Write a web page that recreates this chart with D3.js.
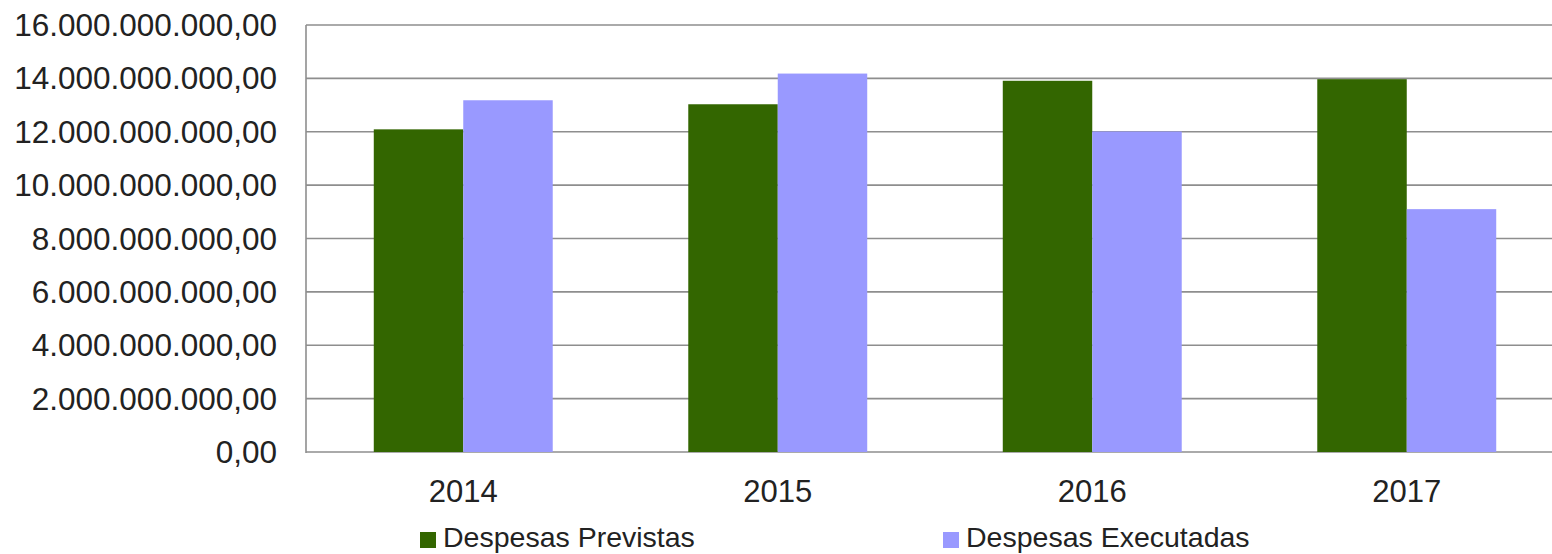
<!DOCTYPE html>
<html>
<head>
<meta charset="utf-8">
<script src="https://cdn.jsdelivr.net/npm/d3@7"></script>
<style>
    body { margin: 0; background: #fff; }
    text { font-family: "Liberation Sans", Arial, sans-serif; fill: #222; }
</style>
</head>
<body>
<div id="chart"></div>
<script>
var years = ["2014", "2015", "2016", "2017"];
var seriesNames = ["Despesas Previstas", "Despesas Executadas"];
var previstas = [12.09e9, 13.03e9, 13.91e9, 13.97e9];
var executadas = [13.18e9, 14.18e9, 12.01e9, 9.10e9];
var yTicks = [0, 2e9, 4e9, 6e9, 8e9, 10e9, 12e9, 14e9, 16e9];
var colors = ["#336600", "#9999ff"];

var svgWidth = 1552;
var svgHeight = 554;

// plot box (right edge runs past the window, as in the original)
var plot = { left: 306, top: 25, bottom: 452, right: 1564 };

var svg = d3.select("#chart")
    .append("svg")
    .attr("width", svgWidth)
    .attr("height", svgHeight);

var yScale = d3.scaleLinear()
    .domain([0, 16e9])
    .range([plot.bottom, plot.top]);

var x0 = d3.scaleBand()
    .domain(years)
    .range([plot.left, plot.right])
    .paddingInner(0.431)
    .paddingOuter(0.2155);

var x1 = d3.scaleBand()
    .domain([0, 1])
    .range([0, x0.bandwidth()]);

// pt-BR number format
var fmt = d3.formatLocale({
    decimal: ",",
    thousands: ".",
    grouping: [3],
    currency: ["R$", ""]
}).format(",.2f");

// gridlines
svg.append("g")
    .selectAll("line")
    .data(yTicks)
    .enter()
    .append("line")
    .attr("x1", plot.left)
    .attr("x2", svgWidth)
    .attr("y1", d => yScale(d))
    .attr("y2", d => yScale(d))
    .attr("stroke", "#8e8e8e")
    .attr("stroke-width", 1.6);

// left axis line
svg.append("line")
    .attr("x1", plot.left)
    .attr("x2", plot.left)
    .attr("y1", plot.top)
    .attr("y2", plot.bottom + 1)
    .attr("stroke", "#8e8e8e")
    .attr("stroke-width", 1.6);

// y labels
svg.append("g")
    .selectAll("text")
    .data(yTicks)
    .enter()
    .append("text")
    .attr("x", 277)
    .attr("y", d => yScale(d))
    .attr("dy", "0.35em")
    .attr("text-anchor", "end")
    .attr("font-size", "31.5px")
    .text(d => fmt(d));

// bars
var rows = years.map((y, i) => ({ year: y, values: [previstas[i], executadas[i]] }));

var groups = svg.append("g")
    .selectAll("g")
    .data(rows)
    .enter()
    .append("g")
    .attr("transform", d => `translate(${x0(d.year)},0)`);

groups.selectAll("rect")
    .data(d => d.values.map((v, k) => ({ k: k, v: v })))
    .enter()
    .append("rect")
    .attr("x", d => x1(d.k))
    .attr("width", x1.bandwidth())
    .attr("y", d => yScale(d.v))
    .attr("height", d => plot.bottom - yScale(d.v))
    .attr("fill", d => colors[d.k]);

// x labels
svg.append("g")
    .selectAll("text")
    .data(years)
    .enter()
    .append("text")
    .attr("x", d => x0(d) + x0.bandwidth() / 2)
    .attr("y", 502)
    .attr("text-anchor", "middle")
    .attr("font-size", "31px")
    .text(d => d);

// legend
var legendX = [420, 943];
var legend = svg.append("g")
    .selectAll("g")
    .data(seriesNames)
    .enter()
    .append("g")
    .attr("transform", (d, i) => `translate(${legendX[i]},532)`);

legend.append("rect")
    .attr("width", 16)
    .attr("height", 16)
    .attr("fill", (d, i) => colors[i]);

legend.append("text")
    .attr("x", 23)
    .attr("y", 15)
    .attr("font-size", "28.5px")
    .text(d => d);
</script>
</body>
</html>
